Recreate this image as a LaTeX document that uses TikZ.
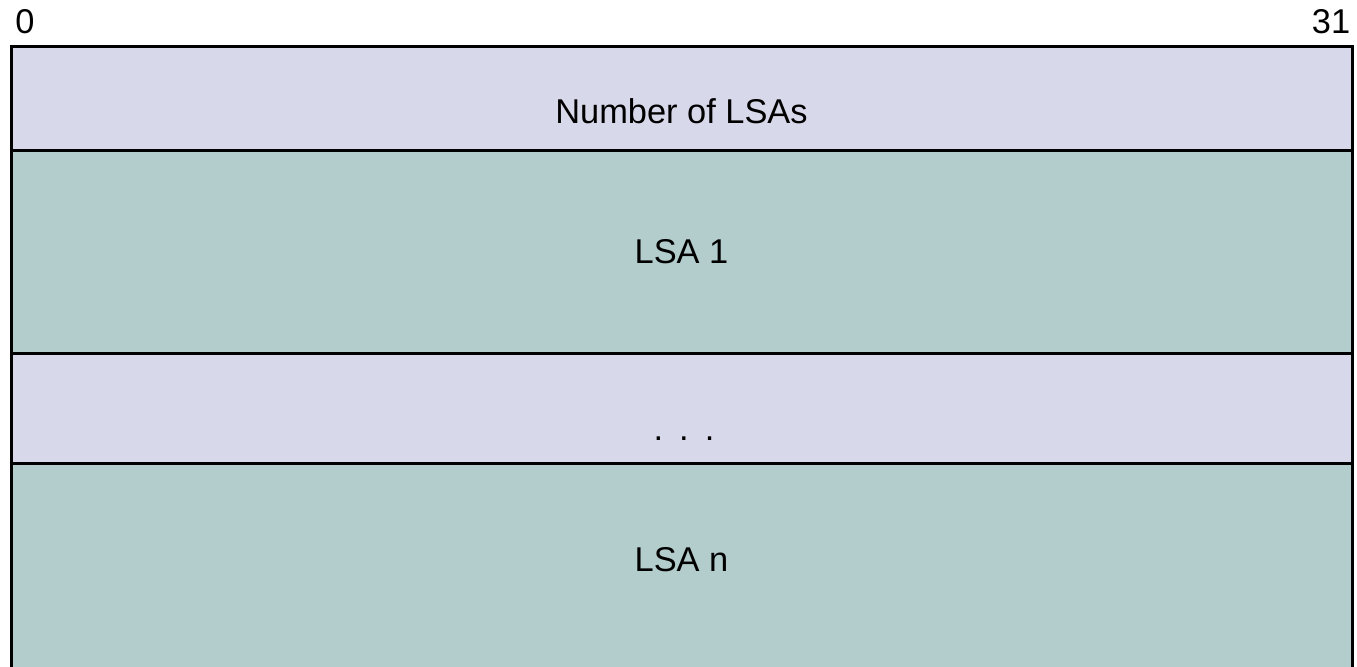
\documentclass[tikz,border=0pt]{standalone}
\usepackage{fontspec}
\setmainfont{Liberation Sans}
\usepackage{tikz}
\usetikzlibrary{positioning}
\usepackage{xcolor}
\definecolor{lav}{HTML}{D8D8EB}
\definecolor{sea}{HTML}{B3CCCC}

\begin{document}
\begin{tikzpicture}[x=0.5pt,y=-0.5pt,
  field/.style={draw=black,line width=1.5pt,minimum width=670.5pt,inner sep=0pt},
  lbl/.style={font=\fontsize{17.2}{20}\selectfont}]
\clip (0,0) rectangle (1357,666);
\node[field,fill=lav,minimum height=52pt] (num) at (681.5,98) {};
\node[field,fill=sea,minimum height=101.5pt] (lsa1) at (681.5,251.5) {};
\node[field,fill=lav,minimum height=55pt] (dots) at (681.5,408) {};
\node[field,fill=sea,minimum height=120pt] (lsan) at (681.5,583) {};
\node[lbl] (numtxt) at ([yshift=-6.5pt]num.center) {Number of LSAs};
\node[lbl] (lsa1txt) at (lsa1.center) {LSA 1};
\node[lbl,anchor=base] (dotstxt) at (684,440) {.\hspace{8pt}.\hspace{8pt}.};
\node[lbl] (lsantxt) at (681.5,560) {LSA n};
\node[lbl] (bit0) at (25,22) {0};
\node[lbl] (bit31) at (1331,22) {31};
\end{tikzpicture}
\end{document}
